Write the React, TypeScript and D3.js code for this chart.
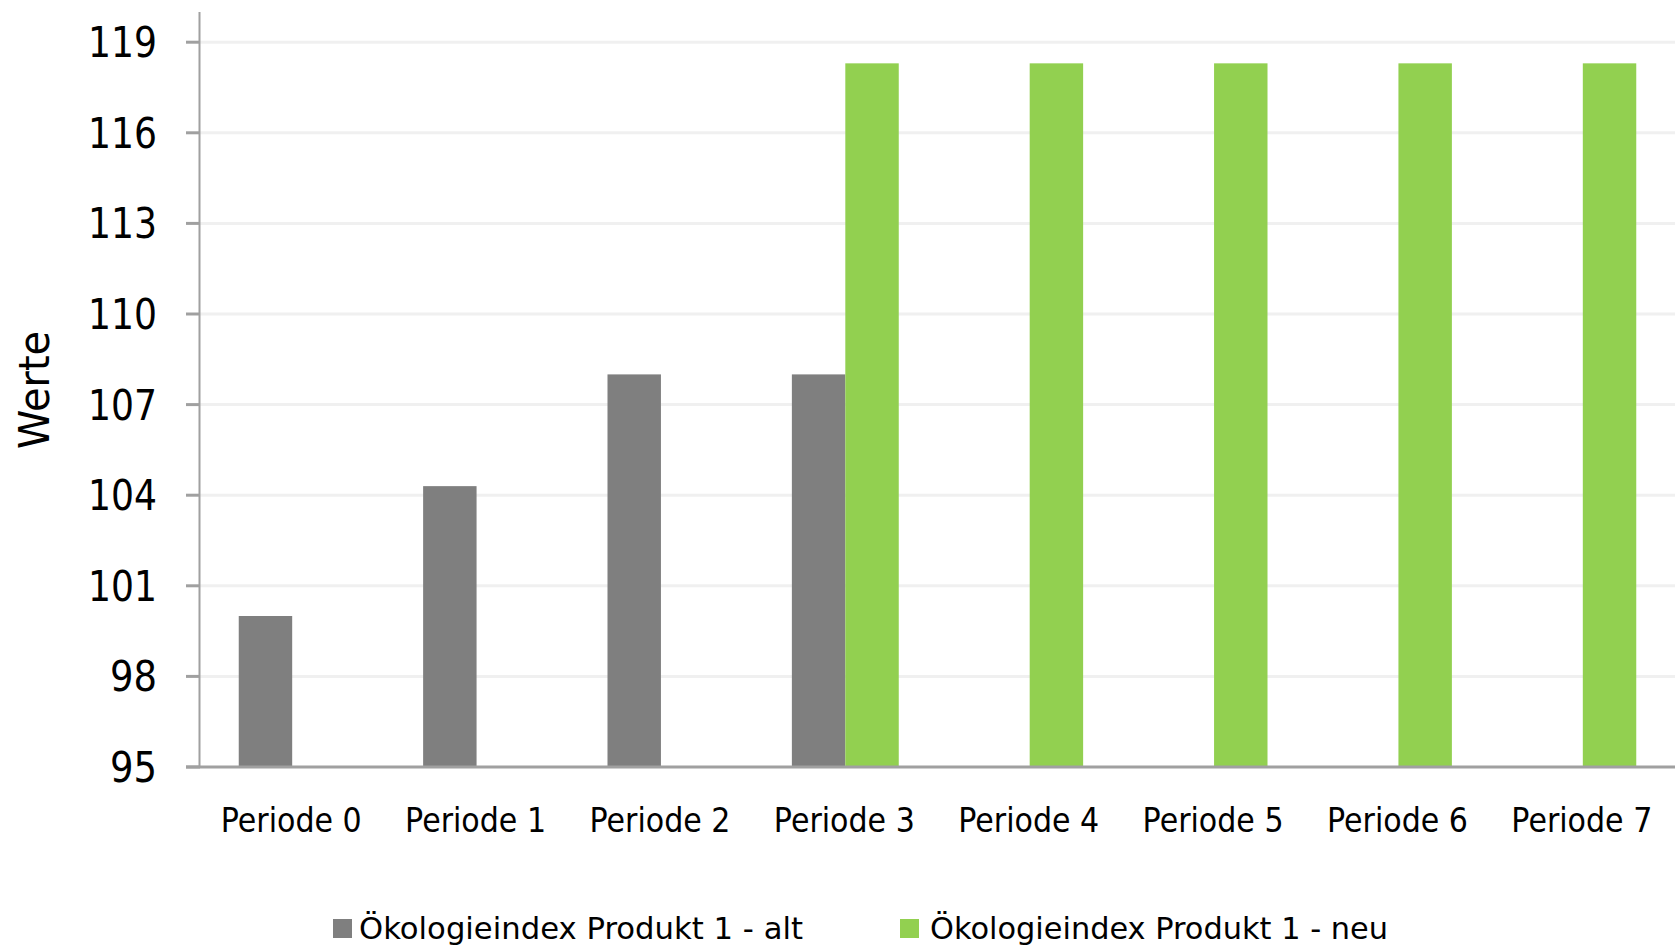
import React from "react";
import * as d3 from "d3";

const categories = ["Periode 0", "Periode 1", "Periode 2", "Periode 3", "Periode 4", "Periode 5", "Periode 6", "Periode 7"];
const seriesNames = ["Ökologieindex Produkt 1 - alt", "Ökologieindex Produkt 1 - neu"];
const altValues: (number | null)[] = [100, 104.3, 108, 108, null, null, null, null];
const neuValues: (number | null)[] = [null, null, null, 118.3, 118.3, 118.3, 118.3, 118.3];
const yTicks = [95, 98, 101, 104, 107, 110, 113, 116, 119];
const yLabel = "Werte";
const colors = ["#7F7F7F", "#92D050"];

const W = 1675;
const H = 947;
const FONT = "'Century Gothic', 'DejaVu Sans', sans-serif";

export default function App() {
  const x = d3.scaleBand<string>().domain(categories).range([200, 1675]).padding(0);
  const step = x.step();
  const barW = step / 3.45;
  const x1 = d3
    .scaleBand<string>()
    .domain(seriesNames)
    .range([step / 2 - barW, step / 2 + barW])
    .padding(0);
  const y = d3.scaleLinear().domain([95, 120]).range([767, 12]);
  const series = [altValues, neuValues];

  return (
    <svg
      width={W}
      height={H}
      style={{ position: "absolute", left: 0, top: 0, background: "#fff" }}
      fontFamily={FONT}
    >
      <rect x={0} y={0} width={W} height={H} fill="#fff" />
      {/* gridlines */}
      {yTicks.filter((t) => t !== 95).map((t) => (
        <line key={"g" + t} x1={200} x2={1675} y1={y(t)} y2={y(t)} stroke="#F0F0F0" strokeWidth={3} />
      ))}
      {/* bars */}
      {series.map((vals, si) =>
        vals.map((v, i) =>
          v == null ? null : (
            <rect
              key={si + "-" + i}
              x={(x(categories[i]) as number) + (x1(seriesNames[si]) as number)}
              y={y(v)}
              width={x1.bandwidth()}
              height={y(95) - y(v)}
              fill={colors[si]}
            />
          )
        )
      )}
      {/* y axis */}
      <line x1={199.5} x2={199.5} y1={y(120)} y2={y(95)} stroke="#A0A0A0" strokeWidth={2} />
      {yTicks.map((t) => (
        <g key={"t" + t}>
          <line x1={186} x2={200} y1={y(t)} y2={y(t)} stroke="#A0A0A0" strokeWidth={3} />
          <text
            x={157}
            y={y(t) + 15}
            textAnchor="end"
            fontSize={43}
            fill="#000"
            textLength={String(t).length === 3 ? 69 : 47}
            lengthAdjust="spacingAndGlyphs"
          >
            {t}
          </text>
        </g>
      ))}
      {/* x axis */}
      <line x1={186} x2={1675} y1={y(95)} y2={y(95)} stroke="#A0A0A0" strokeWidth={3} />
      {categories.map((c) => (
        <text
          key={c}
          x={(x(c) as number) + step / 2 - 1}
          y={832}
          textAnchor="middle"
          fontSize={34}
          fill="#000"
          textLength={141}
          lengthAdjust="spacingAndGlyphs"
        >
          {c}
        </text>
      ))}
      {/* y label */}
      <text
        transform={`translate(49,390) rotate(-90)`}
        textAnchor="middle"
        fontSize={43}
        fill="#000"
        textLength={118}
        lengthAdjust="spacingAndGlyphs"
      >
        {yLabel}
      </text>
      {/* legend */}
      {[
        { sx: 333, tx: 359, tl: 444 },
        { sx: 900, tx: 930, tl: 458 },
      ].map((l, i) => (
        <g key={"l" + i}>
          <rect x={l.sx} y={919} width={19} height={19} fill={colors[i]} />
          <text x={l.tx} y={939} fontSize={30} fill="#000" textLength={l.tl} lengthAdjust="spacingAndGlyphs">
            {seriesNames[i]}
          </text>
        </g>
      ))}
    </svg>
  );
}
